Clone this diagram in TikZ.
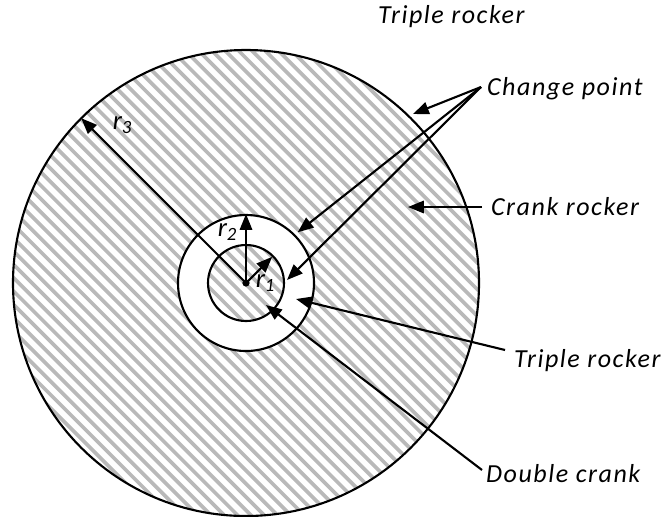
\documentclass[tikz,border=0pt]{standalone}
\usepackage{fontspec}
\setmainfont{Carlito}[LetterSpace=6]
\usetikzlibrary{arrows.meta,positioning,calc}

\begin{document}
\begin{tikzpicture}[
	line width=0.6pt,
	lbl/.style={font=\fontsize{7.4}{9}\selectfont\itshape, inner sep=0pt, anchor=base west},
	rlbl/.style={font=\fontsize{7.6}{9}\selectfont\itshape, inner sep=0pt},
	ptr/.style={-{Triangle[length=4.5pt,width=3.5pt]}},
	hatch/.style={draw=gray!55, line width=1.05pt}
]
	\useasboundingbox (-2.46,-2.33) rectangle (4.16,2.83);
	
	% striped regions
	\begin{scope}
		\clip (0,0) circle (2.33);
		\foreach \c in {-3.47,-3.337,...,3.5}
			\draw[hatch] (\c-2.4,2.4) -- (\c+2.4,-2.4);
	\end{scope}
	\fill[white,even odd rule] (0,0) circle (0.68) (0,0) circle (0.38);
	
	\coordinate (O) at (0,0);
	\coordinate (t3) at (135:2.33);
	\coordinate (t2) at (90:0.69);
	\coordinate (t1) at (45:0.37);
	
	% radii
	\draw[ptr] (O) -- (t3);
	\draw[ptr] (O) -- (t2);
	\draw[ptr] (O) -- (t1);
	\filldraw (O) circle (0.025);
	
	\draw (O) circle (2.33);
	\draw (O) circle (0.68);
	\draw (O) circle (0.38);
	
	\node[rlbl] (r3) at (-1.23,1.58) {r\textsubscript{3}};
	\node[rlbl] (r2) at (-0.18,0.51) {r\textsubscript{2}};
	\node[rlbl] (r1) at (0.20,0.0) {r\textsubscript{1}};
	
	% labels
	\node[lbl] (toprock) at (1.31,2.60) {Triple rocker};
	\node[lbl] (change) at (2.40,1.88) {Change point};
	\node[lbl] (crank) at (2.44,0.68) {Crank rocker};
	\node[lbl] (inrock) at (2.67,-0.84) {Triple rocker};
	\node[lbl] (dbl) at (2.39,-1.99) {Double crank};
	
	\coordinate (cpsrc) at (2.35,1.96);
	\coordinate (cpa) at (1.67,1.69);
	\coordinate (cpb) at (0.517,0.507);
	\coordinate (cpc) at (0.41,0.03);
	\coordinate (crsrc) at (2.36,0.76);
	\coordinate (crtip) at (1.62,0.76);
	\coordinate (trsrc) at (2.59,-0.67);
	\coordinate (trtip) at (0.50,-0.16);
	\coordinate (dcsrc) at (2.36,-1.87);
	\coordinate (dctip) at (0.20,-0.22);
	
	\draw[ptr] (cpsrc) -- (cpa);
	\draw[ptr] (cpsrc) -- (cpb);
	\draw[ptr] (cpsrc) -- (cpc);
	\draw[ptr] (crsrc) -- (crtip);
	\draw[ptr] (trsrc) -- (trtip);
	\draw[ptr] (dcsrc) -- (dctip);
\end{tikzpicture}
\end{document}
